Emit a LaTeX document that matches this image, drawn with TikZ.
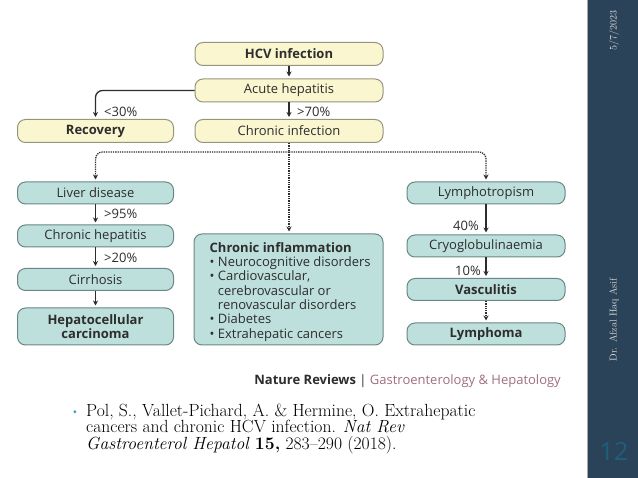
\documentclass[tikz,border=0pt]{standalone}
\usepackage{fontspec}
\newfontfamily\diagfont{Open Sans}
\usetikzlibrary{arrows.meta}
\definecolor{ybox}{RGB}{250,246,208}
\definecolor{yedge}{RGB}{150,150,125}
\definecolor{tbox}{RGB}{190,224,220}
\definecolor{tedge}{RGB}{105,135,132}
\definecolor{ink}{RGB}{45,45,45}
\definecolor{sidebar}{RGB}{43,67,89}
\definecolor{mauve}{RGB}{160,110,128}
\definecolor{pagenum}{RGB}{30,95,125}
\definecolor{bulletc}{RGB}{60,160,200}
\tikzset{
  base/.style={rounded corners=8pt, line width=1pt, inner sep=1pt, align=center, text=ink, font=\diagfont\fontsize{13}{15}\selectfont},
  ybx/.style={base, draw=yedge, fill=ybox, minimum height=23pt},
  tbx/.style={base, draw=tedge, fill=tbox, minimum height=22pt},
  arr/.style={draw=ink, line width=1.3pt, -{Stealth[length=5pt,width=5pt]}, shorten >=2pt},
  dotarr/.style={draw=ink, line width=1.3pt, densely dotted, -{Stealth[length=5pt,width=5pt]}, shorten >=2pt},
  pct/.style={font=\diagfont\fontsize{13}{15}\selectfont, text=ink, inner sep=1pt}
}
\begin{document}
\begin{tikzpicture}[x=1pt,y=-1pt]
\useasboundingbox (0,0) rectangle (638,478);
\fill[white] (0,0) rectangle (638,478);
% sidebar
\fill[sidebar] (587,0) rectangle (638,478);
\draw[color=gray!70, line width=0.8pt] (587.4,0) -- (587.4,478);
\node[rotate=90, text=gray!30, font=\fontsize{10}{11}\selectfont] (date) at (614,31) {5/7/2023};
\node[rotate=90, text=gray!30, font=\fontsize{10}{11}\selectfont] (author) at (614,320) {Dr. Afzal Haq Asif};
\node[text=pagenum, font=\diagfont\fontsize{25}{27}\selectfont] (num) at (614,451) {12};

% yellow boxes
\node[ybx, minimum width=188pt] (hcv) at (289,54) {\bfseries HCV infection};
\node[ybx, minimum width=188pt] (acute) at (289,90.5) {Acute hepatitis};
\node[ybx, minimum width=156pt] (recov) at (95.5,131) {\bfseries Recovery};
\node[ybx, minimum width=188pt] (chinf) at (289,131) {Chronic infection};

% left column
\node[tbx, minimum width=156pt] (liver) at (95.5,193) {Liver disease};
\node[tbx, minimum width=156pt] (chhep) at (95.5,236) {Chronic hepatitis};
\node[tbx, minimum width=156pt] (cirr) at (95.5,279.5) {Cirrhosis};
\node[tbx, minimum width=156pt, minimum height=37pt, font=\diagfont\bfseries\fontsize{13}{14}\selectfont] (hcc) at (95.5,326.5) {Hepatocellular\\carcinoma};

% middle
\node[tbx, minimum width=189pt, minimum height=111pt] (inflam) at (288.5,289.5) {};
\node[anchor=north west, align=left, inner sep=0pt, text=ink, font=\diagfont\fontsize{13}{14.33}\selectfont] (inflamtxt) at (209.5,242)
{\textbf{Chronic inflammation}\\
\textbullet\ Neurocognitive disorders\\
\textbullet\ Cardiovascular,\\
\phantom{\textbullet\ }cerebrovascular or\\
\phantom{\textbullet\ }renovascular disorders\\
\textbullet\ Diabetes\\
\textbullet\ Extrahepatic cancers};

% right column
\node[tbx, minimum width=158pt] (lympho) at (486,193) {Lymphotropism};
\node[tbx, minimum width=158pt] (cryo) at (486,246) {Cryoglobulinaemia};
\node[tbx, minimum width=158pt] (vasc) at (486,289.5) {\bfseries Vasculitis};
\node[tbx, minimum width=158pt] (lymphoma) at (486,334) {\bfseries Lymphoma};

% connectors top
\draw[arr] (hcv) -- (acute);
\draw[arr, rounded corners=7pt] (acute.west) -| (recov.north);
\draw[arr] (acute) -- (chinf);
\node[pct, anchor=west] (l30) at (103,112) {<30\%};
\node[pct, anchor=west] (l70) at (296,112) {>70\%};

% dotted split
\coordinate (split) at (289,152);
\draw[draw=ink, line width=1.3pt, densely dotted] (chinf.south) -- (split);
\draw[dotarr, rounded corners=7pt] (split) -| (liver.north);
\draw[dotarr, rounded corners=7pt] (split) -| (lympho.north);
\draw[dotarr] (split) -- (split |- inflam.north);

% left column arrows
\draw[arr] (liver) -- (chhep);
\draw[arr] (chhep) -- (cirr);
\draw[arr] (cirr) -- (hcc);
\node[pct, anchor=west] (l95) at (103,213.5) {>95\%};
\node[pct, anchor=west] (l20) at (103,258) {>20\%};

% right column arrows
\draw[arr] (lympho) -- (cryo);
\draw[arr] (cryo) -- (vasc);
\draw[dotarr] (vasc) -- (lymphoma);
\node[pct, anchor=east] (l40) at (480,226) {40\%};
\node[pct, anchor=east] (l10) at (482,271) {10\%};

% journal line
\node[anchor=east, inner sep=0pt, font=\diagfont\fontsize{13}{15}\selectfont] (journal) at (561,381)
{\textbf{\textcolor{ink}{Nature Reviews}} \textcolor{ink}{|} \textcolor{mauve}{Gastroenterology \& Hepatology}};

% citation
\node[text=bulletc, font=\fontsize{10}{10}\selectfont, inner sep=0pt] (bul) at (75,412.5) {\textbullet};
\node[anchor=north west, align=left, inner sep=0pt, text=black, font=\fontsize{17.6}{16.3}\selectfont] (cite) at (86,404)
{Pol, S., Vallet-Pichard, A. \& Hermine, O. Extrahepatic\\
cancers and chronic HCV infection. \textit{Nat Rev}\\
\textit{Gastroenterol Hepatol} \textbf{15,} 283--290 (2018).};
\end{tikzpicture}
\end{document}
